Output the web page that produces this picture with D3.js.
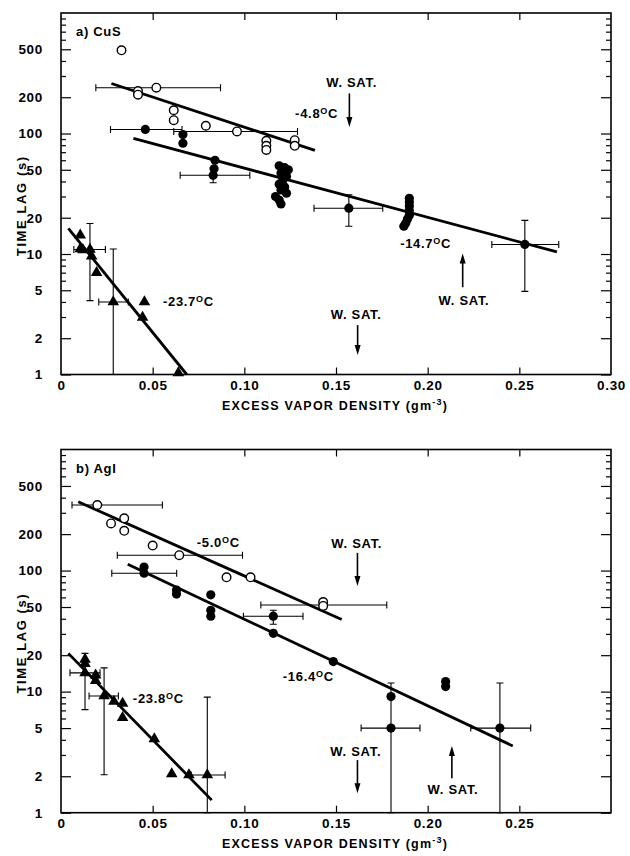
<!DOCTYPE html>
<meta charset="utf-8">
<style>
    body { margin: 0; background: #fff; }
    svg text { font-family: "Liberation Sans", Arial, sans-serif; font-weight: bold; fill: #000; }
    .tick text { font-size: 13.5px; letter-spacing: 0.7px; }
    .domain { display: none; }
    .tick line { stroke: #000; stroke-width: 1.2px; }
    .fit { fill: none; stroke: #000; stroke-width: 2.8px; }
    .err { fill: none; stroke: #000; stroke-width: 1.1px; }
    .note { font-size: 13px; letter-spacing: 0.7px; }
    .title { font-size: 12.5px; letter-spacing: 1.2px; }
    .ytitle { font-size: 13px; letter-spacing: 1.6px; }
</style>
<body>
<script src="https://d3js.org/d3.v7.min.js"></script>
<script>
// ---- data: panel a) CuS ----
var cusOpen = [[0.033,490],[0.042,225],[0.042,210],[0.052,240],[0.0615,156],[0.0615,129],
    [0.079,116],[0.096,104],[0.112,87],[0.112,79],[0.112,73],[0.1275,88],[0.1275,79]];
var cusOpenErr = [{x:0.052,y:240,x0:0.019,x1:0.087},{x:0.096,y:104,x0:0.0615,x1:0.129}];
var cusOpenFit = [[0.0275,260],[0.1385,72.5]];

var cusFilled = [[0.046,108],[0.0665,98],[0.0665,83],[0.084,60],[0.0835,51],[0.083,45],
    [0.119,54],[0.122,52],[0.124,50],[0.12,47],[0.123,44],[0.121,41],[0.119,38],[0.122,36],
    [0.12,34],[0.123,32],[0.117,30],[0.119,28],[0.12,26],
    [0.157,24],
    [0.19,29],[0.19,27],[0.19,25],[0.19,23],[0.19,21],[0.189,19.5],[0.188,18],[0.187,17],
    [0.253,12]];
var cusFilledErr = [{x:0.046,y:108,x0:0.027,x1:0.066},{x:0.083,y:45,x0:0.065,x1:0.103,y0:39,y1:52},
    {x:0.157,y:24,x0:0.138,x1:0.1755,y0:17,y1:31},{x:0.253,y:12,x0:0.235,x1:0.2715,y0:4.9,y1:19}];
var cusFilledFit = [[0.0395,91],[0.2705,10.4]];

var cusTri = [[0.0105,14.3],[0.0105,11],[0.012,10.8],[0.0158,10.9],[0.0167,9.6],[0.0194,7.0],
    [0.0285,4.0],[0.0455,4.0],[0.0445,2.97],[0.064,1.03]];
var cusTriErr = [{x:0.0158,y:10.9,x0:0.007,x1:0.0242,y0:4.1,y1:17.9},{x:0.0285,y:4.0,x0:0.0206,x1:0.0367,y0:1,y1:11}];
var cusTriFit = [[0.004,16.3],[0.0686,1.0]];

// ---- data: panel b) AgI ----
var agiOpen = [[0.0198,348],[0.0273,245],[0.0345,270],[0.0345,213],[0.05,161],[0.0645,134],
    [0.0903,88],[0.1034,88],[0.143,55],[0.143,51]];
var agiOpenErr = [{x:0.0198,y:348,x0:0.006,x1:0.0553},{x:0.0645,y:134,x0:0.0307,x1:0.099},
    {x:0.143,y:52,x0:0.109,x1:0.1777,y0:48,y1:58}];
var agiOpenFit = [[0.0094,370],[0.1531,39.5]];

var agiFilled = [[0.0453,107],[0.0453,95],[0.063,69],[0.063,64],[0.0817,63],[0.0817,47],[0.0817,42],
    [0.1158,42],[0.1158,30.3],[0.1485,17.7],[0.18,9.1],[0.18,5.0],[0.2098,12.1],[0.2098,11],[0.2394,5.0]];
var agiFilledErr = [{x:0.0453,y:95,x0:0.0277,x1:0.0631},{x:0.1158,y:42,x0:0.0995,x1:0.132,y0:36,y1:47},
    {x:0.18,y:5,x0:0.1637,x1:0.1958,y0:1,y1:11.8},{x:0.2394,y:5,x0:0.2235,x1:0.2562,y0:1,y1:11.8}];
var agiFilledFit = [[0.0364,113],[0.2464,3.56]];

var agiTri = [[0.0131,18.5],[0.0131,17],[0.0131,14.3],[0.0189,13.7],[0.0189,12.3],[0.0235,9.2],
    [0.0289,8.3],[0.0336,8.0],[0.0336,6.1],[0.0509,4.06],[0.0604,2.09],[0.0698,2.05],[0.0798,2.05]];
var agiTriErr = [{x:0.0131,y:14.3,x0:0.0049,x1:0.0213,y0:7.1,y1:20.7},{x:0.0235,y:9.2,x0:0.0153,x1:0.0313,y0:2.06,y1:15.7},
    {x:0.0798,y:2.05,x0:0.071,x1:0.0895,y0:1,y1:9.0}];
var agiTriFit = [[0.004,20.7],[0.0822,1.27]];

// ---- axes ----
var xMajor = [0, 0.05, 0.10, 0.15, 0.20, 0.25, 0.30];
var yMajor = [1, 2, 5, 10, 20, 50, 100, 200, 500];

// labels: [text, x, y] in data units
var cusLabels = [["-4.8", 0.1277, 134], ["-14.7", 0.185, 11.3], ["-23.7", 0.0556, 3.69]];
var cusSat = [{tx:0.1585, ty:245, ax:0.1573, from:215, to:113},
              {tx:0.2198, ty:3.8, ax:0.2191, from:5.3, to:10.1},
              {tx:0.161, ty:2.9, ax:0.1618, from:2.57, to:1.45}];
var agiLabels = [["-5.0", 0.0741, 156], ["-16.4", 0.121, 12.2], ["-23.8", 0.0392, 8.05]];
var agiSat = [{tx:0.1613, ty:155, ax:0.1617, from:140, to:74.5},
              {tx:0.1608, ty:2.94, ax:0.1617, from:2.72, to:1.45},
              {tx:0.2138, ty:1.44, ax:0.2132, from:1.93, to:3.55}];

var svg = d3.select("body").append("svg")
    .attr("width", 630)
    .attr("height", 856);

function drawPanel(p) {
    var x = d3.scaleLinear().domain([0, 0.30]).range([61, 611]);
    var y = d3.scaleLog().domain([1, 1000]).range([p.bottom, p.top]);
    var g = svg.append("g");
    var allY = y.ticks().filter(function(d) { return d < 1000; });
    var minorY = allY.filter(function(d) { return yMajor.indexOf(d) < 0; });
    var xInner = xMajor.filter(function(d) { return d > 0 && d < 0.30; });

    // left axis
    g.append("g").attr("transform", "translate(61,0)")
        .call(d3.axisLeft(y).tickValues(minorY).tickSize(-5).tickFormat(""));
    g.append("g").attr("transform", "translate(61,0)")
        .call(d3.axisLeft(y).tickValues(yMajor).tickSize(-10).tickPadding(18).tickFormat(d3.format("d")));
    // right axis
    g.append("g").attr("transform", "translate(611,0)")
        .call(d3.axisRight(y).tickValues(minorY).tickSize(-5).tickFormat(""));
    g.append("g").attr("transform", "translate(611,0)")
        .call(d3.axisRight(y).tickValues(yMajor).tickSize(-10).tickFormat(""));
    // top axis
    g.append("g").attr("transform", "translate(0," + p.top + ")")
        .call(d3.axisTop(x).tickValues(xInner).tickSize(-7).tickFormat(""));
    // bottom axis
    g.append("g").attr("transform", "translate(0," + p.bottom + ")")
        .call(d3.axisBottom(x).tickValues(xInner).tickSize(-7).tickFormat(""));
    g.append("g").attr("transform", "translate(0," + p.bottom + ")")
        .call(d3.axisBottom(x).tickValues(xMajor.filter(function(d) { return d <= p.xMax; }))
            .tickSize(0).tickPadding(6)
            .tickFormat(function(d) { return d === 0 ? "0" : d3.format(".2f")(d); }));

    // frame
    g.append("rect")
        .attr("x", 61).attr("y", p.top)
        .attr("width", 550).attr("height", p.bottom - p.top)
        .attr("fill", "none").attr("stroke", "#000").attr("stroke-width", 1.6);

    // axis titles
    var xt = g.append("text").attr("class", "title")
        .attr("x", 335).attr("y", p.bottom + 35)
        .attr("text-anchor", "middle")
        .text("EXCESS VAPOR DENSITY (gm");
    xt.append("tspan").attr("dy", -5).attr("font-size", "9px").text("-3");
    xt.append("tspan").attr("dy", 5).text(")");

    g.append("text").attr("class", "ytitle")
        .attr("transform", "translate(26," + ((p.top + p.bottom) / 2 + 12) + ") rotate(-90)")
        .attr("text-anchor", "middle")
        .text("TIME LAG  (s)");

    g.append("text").attr("class", "note")
        .attr("x", 76).attr("y", p.top + 23)
        .text(p.name);

    // error bars
    function errBars(list) {
        list.forEach(function(e) {
            var cx = x(e.x), cy = y(e.y);
            if (e.x0 !== undefined) {
                g.append("path").attr("class", "err")
                    .attr("d", "M" + x(e.x0) + "," + cy + "H" + x(e.x1) +
                        "M" + x(e.x0) + "," + (cy - 3.5) + "V" + (cy + 3.5) +
                        "M" + x(e.x1) + "," + (cy - 3.5) + "V" + (cy + 3.5));
            }
            if (e.y0 !== undefined) {
                g.append("path").attr("class", "err")
                    .attr("d", "M" + cx + "," + y(e.y0) + "V" + y(e.y1) +
                        "M" + (cx - 3.5) + "," + y(e.y0) + "H" + (cx + 3.5) +
                        "M" + (cx - 3.5) + "," + y(e.y1) + "H" + (cx + 3.5));
            }
        });
    }
    errBars(p.openErr); errBars(p.filledErr); errBars(p.triErr);

    // fitted lines
    var line = d3.line().x(function(d) { return x(d[0]); }).y(function(d) { return y(d[1]); });
    [p.openFit, p.filledFit, p.triFit].forEach(function(f) {
        g.append("path").attr("class", "fit").attr("d", line(f));
    });

    // markers
    g.selectAll(".filled").data(p.filled).enter().append("circle")
        .attr("cx", function(d) { return x(d[0]); })
        .attr("cy", function(d) { return y(d[1]); })
        .attr("r", 4.6).attr("fill", "#000");
    g.selectAll(".open").data(p.open).enter().append("circle")
        .attr("cx", function(d) { return x(d[0]); })
        .attr("cy", function(d) { return y(d[1]); })
        .attr("r", 4.3).attr("fill", "#fff").attr("stroke", "#000").attr("stroke-width", 1.4);
    var tri = d3.symbol().type(d3.symbolTriangle).size(58);
    g.selectAll(".tri").data(p.tri).enter().append("path")
        .attr("d", tri)
        .attr("transform", function(d) { return "translate(" + x(d[0]) + "," + y(d[1]) + ")"; });

    // temperature labels
    p.labels.forEach(function(l) {
        var t = g.append("text").attr("class", "note")
            .attr("x", x(l[1])).attr("y", y(l[2]))
            .text(l[0]);
        t.append("tspan").attr("font-size", "9px").attr("dy", -4).text("O");
        t.append("tspan").attr("dy", 4).text("C");
    });

    // water saturation arrows
    p.sat.forEach(function(s) {
        g.append("text").attr("class", "note")
            .attr("x", x(s.tx)).attr("y", y(s.ty))
            .attr("text-anchor", "middle")
            .text("W. SAT.");
        var ax = x(s.ax), y0 = y(s.from), y1 = y(s.to);
        var dir = y1 > y0 ? 1 : -1;
        g.append("line")
            .attr("x1", ax).attr("x2", ax)
            .attr("y1", y0).attr("y2", y1 - dir * 8)
            .attr("stroke", "#000").attr("stroke-width", 1.6);
        g.append("path")
            .attr("d", "M" + (ax - 3) + "," + (y1 - dir * 10) + "L" + (ax + 3) + "," + (y1 - dir * 10) +
                "L" + ax + "," + y1 + "Z")
            .attr("fill", "#000");
    });
}

drawPanel({name: "a)  CuS", top: 13, bottom: 374.5, xMax: 0.30,
    open: cusOpen, openErr: cusOpenErr, openFit: cusOpenFit,
    filled: cusFilled, filledErr: cusFilledErr, filledFit: cusFilledFit,
    tri: cusTri, triErr: cusTriErr, triFit: cusTriFit,
    labels: cusLabels, sat: cusSat});

drawPanel({name: "b) AgI", top: 449.5, bottom: 812.7, xMax: 0.25,
    open: agiOpen, openErr: agiOpenErr, openFit: agiOpenFit,
    filled: agiFilled, filledErr: agiFilledErr, filledFit: agiFilledFit,
    tri: agiTri, triErr: agiTriErr, triFit: agiTriFit,
    labels: agiLabels, sat: agiSat});
</script>
</body>
